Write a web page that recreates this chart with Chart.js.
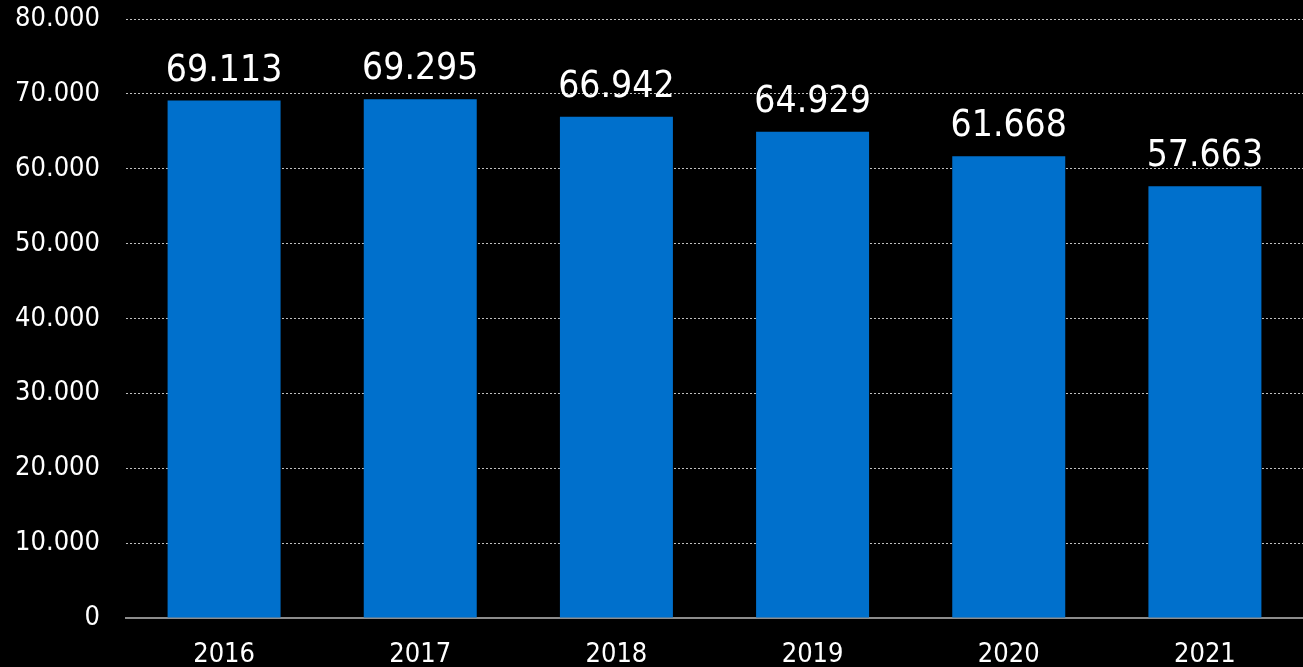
<!DOCTYPE html>
<html>
<head>
<meta charset="utf-8">
<script src="https://cdn.jsdelivr.net/npm/chart.js@4.4.7/dist/chart.umd.min.js"></script>
<style>
  html, body { margin: 0; padding: 0; background: #000; }
  #wrap { width: 1303px; height: 667px; position: relative; }
</style>
</head>
<body>
<div id="wrap"><canvas id="chart"></canvas></div>
<script>
const years = ["2016", "2017", "2018", "2019", "2020", "2021"]
const values = [69113, 69295, 66942, 64929, 61668, 57663]
const yMax = 80000
const yStep = 10000

const fmt = v => String(v).replace(/\B(?=(\d{3})+(?!\d))/g, ".")
const FONT = "'DejaVu Sans Condensed', 'DejaVu Sans'"

const barLabels = {
  id: "barLabels",
  afterDatasetsDraw(chart) {
    const ctx = chart.ctx
    const meta = chart.getDatasetMeta(0)
    ctx.save()
    ctx.fillStyle = "#fff"
    ctx.font = "37px " + FONT
    ctx.textAlign = "center"
    ctx.textBaseline = "alphabetic"
    meta.data.forEach((bar, i) => {
      ctx.fillText(fmt(values[i]), bar.x, bar.y - 20)
    })
    ctx.restore()
  }
}

new Chart(document.getElementById("chart"), {
  type: "bar",
  data: {
    labels: years,
    datasets: [{
      data: values,
      backgroundColor: "#0070cc",
      borderWidth: 0,
      categoryPercentage: 1,
      barPercentage: 0.576
    }]
  },
  options: {
    responsive: true,
    maintainAspectRatio: false,
    animation: false,
    layout: { padding: { top: 19, right: 0, left: 0, bottom: 0 } },
    plugins: {
      legend: { display: false },
      tooltip: { enabled: false }
    },
    scales: {
      y: {
        min: 0,
        max: yMax,
        ticks: {
          stepSize: yStep,
          color: "#fff",
          padding: 26,
          font: { family: FONT, size: 27 },
          callback: v => fmt(v)
        },
        grid: {
          color: "#bfbfbf",
          lineWidth: 1,
          drawTicks: false
        },
        border: { display: false, dash: [2, 2] },
        afterFit: s => { s.width = 126; s.paddingTop = 0; s.paddingBottom = 0 }
      },
      x: {
        ticks: {
          color: "#fff",
          padding: 13,
          font: { family: FONT, size: 27 }
        },
        grid: { display: false },
        border: { display: true, color: "#8c8c8c", width: 2 },
        afterFit: s => { s.height = 49 }
      }
    }
  },
  plugins: [barLabels]
})
</script>
</body>
</html>
